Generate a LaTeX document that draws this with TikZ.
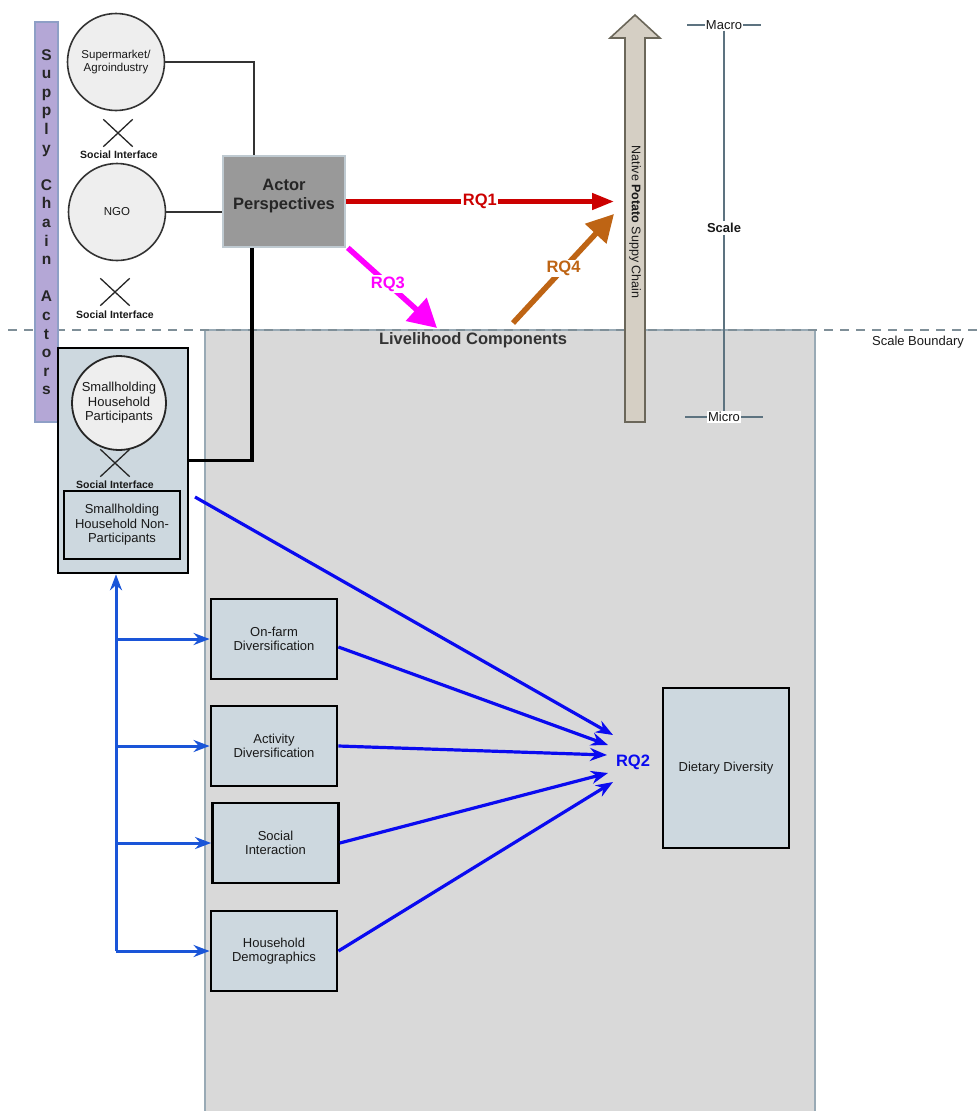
\documentclass[tikz,border=0pt]{standalone}
\usepackage{fontspec}
\setmainfont{Liberation Sans}
\usetikzlibrary{arrows.meta,shapes.misc}
\definecolor{barpurple}{HTML}{B4A7D6}
\definecolor{barline}{HTML}{8E9FC6}
\definecolor{circgray}{HTML}{EEEEEE}
\definecolor{actorgray}{HTML}{999999}
\definecolor{actorline}{HTML}{BFCAD1}
\definecolor{boxblue}{HTML}{CDD8DF}
\definecolor{lgray}{HTML}{D9D9D9}
\definecolor{regionline}{HTML}{99AAB5}
\definecolor{boundary}{HTML}{7F8F98}
\definecolor{chainfill}{HTML}{D5CFC4}
\definecolor{chainline}{HTML}{6B675A}
\definecolor{scaleline}{HTML}{5D7380}
\definecolor{rqred}{HTML}{CC0000}
\definecolor{rqmag}{HTML}{FF00FF}
\definecolor{rqbrown}{HTML}{BE6414}
\definecolor{rqblue}{HTML}{0A0AF0}
\definecolor{spineblue}{HTML}{1A55D8}
\begin{document}
\begin{tikzpicture}[x=1pt,y=-1pt,
    txt/.style={font=\fontsize{13}{14.5}\selectfont, text=black!90},
    actorcirc/.style={circle, draw=black!80, line width=1.6pt, fill=circgray, align=center,
      minimum size=97pt, inner sep=0pt, font=\fontsize{11.5}{13.5}\selectfont, text=black!90},
    crossmark/.style={cross out, draw=black!85, line width=1.3pt, minimum width=28pt,
      minimum height=26pt, inner sep=0pt},
    silabel/.style={font=\bfseries\fontsize{10.5}{12}\selectfont, text=black!90},
    compbox/.style={rectangle, draw=black, line width=2.8pt, fill=boxblue, align=center,
      minimum width=126pt, minimum height=80pt, txt},
    rqlabel/.style={font=\bfseries\fontsize{16.5}{18}\selectfont, fill=white, inner sep=1.5pt},
    rqtwo/.style={draw=rqblue, line width=3.2pt, -{Stealth[length=17pt,width=13pt]}},
    spine/.style={draw=spineblue, line width=3pt, -{Stealth[length=16pt,width=12pt]}}]
  \useasboundingbox (0,0) rectangle (977,1111);

  % livelihood region and scale boundary
  \fill[lgray] (205,330) rectangle (815,1111);
  \draw[regionline, line width=1.6pt] (205,1111) -- (205,330) -- (815,330) -- (815,1111);
  \draw[boundary, dash pattern=on 9pt off 7pt, line width=1.8pt] (8,330) -- (977,330);
  \node[txt] (boundary) at (918,342) {Scale Boundary};
  \node[font=\bfseries\fontsize{16.5}{18}\selectfont, text=black!80] (livelihood) at (473,340) {Livelihood Components};

  % supply chain actors
  \node[draw=barline, fill=barpurple, line width=1.6pt, minimum width=23pt, minimum height=400pt,
    inner sep=0pt, align=center, font=\bfseries\fontsize{15.5}{18.6}\selectfont, text=black!85,
    text depth=0pt] (actors) at (46.5,222)
    {S\\u\\p\\p\\l\\y\\\mbox{}\\C\\h\\a\\i\\n\\\mbox{}\\A\\c\\t\\o\\r\\s};
  \node[actorcirc] (supermarket) at (116,62) {Supermarket/\\Agroindustry};
  \node[crossmark] (cross1) at (118,133) {};
  \node[silabel] (interface1) at (119,155) {Social Interface};
  \node[actorcirc] (ngo) at (117,212) {NGO};
  \node[crossmark] (cross2) at (115,292) {};
  \node[silabel] (interface2) at (115,315) {Social Interface};

  \node[draw=actorline, fill=actorgray, line width=1.6pt, minimum width=122pt, minimum height=91pt,
    align=center, font=\bfseries\fontsize{16.5}{19}\selectfont, text=black!85, text depth=14pt]
    (actor) at (284,201.5) {Actor\\Perspectives};

  % smallholders
  \node[draw=black, line width=2.6pt, fill=boxblue, minimum width=130pt, minimum height=225pt] (holders) at (123,460.5) {};
  \node[circle, draw=black!85, line width=1.8pt, fill=circgray, minimum size=94pt, inner sep=0pt,
    align=center, txt] (participants) at (119,403) {Smallholding\\Household\\Participants};
  \node[crossmark] (cross3) at (115,463) {};
  \node[silabel] (interface3) at (115,485) {Social Interface};
  \node[draw=black, line width=1.8pt, fill=boxblue, minimum width=116pt, minimum height=68pt,
    align=center, txt] (nonpart) at (122,525) {Smallholding\\Household Non-\\Participants};

  % livelihood components
  \node[compbox] (onfarm) at (274,639) {On-farm\\Diversification};
  \node[compbox] (activity) at (274,746) {Activity\\Diversification};
  \node[compbox] (social) at (275.5,843) {Social\\Interaction};
  \node[compbox] (demog) at (274,951) {Household\\Demographics};
  \node[compbox, minimum height=160pt] (dietary) at (726,768) {Dietary Diversity};
  \node[rqlabel, text=rqblue, fill=none] (rq2) at (633,762) {RQ2};

  % native potato supply chain and scale
  \draw[chainline, fill=chainfill, line width=1.6pt] (625,422) -- (625,38) -- (610,38) -- (635,15)
    -- (660,38) -- (645,38) -- (645,422) -- cycle;
  \node[rotate=-90, font=\fontsize{12.5}{14}\selectfont, text=black!90] (chain) at (635,222)
    {Native \textbf{Potato} Suppy Chain};
  \node[txt, inner sep=1pt] (macro) at (724,25) {Macro};
  \node[font=\bfseries\fontsize{13}{15}\selectfont, text=black!90, inner sep=2pt] (scale) at (724,228) {Scale};
  \node[txt, inner sep=1pt, fill=white] (micro) at (724,417) {Micro};
  \draw[scaleline, line width=1.6pt] (macro) -- (scale) -- (micro);
  \draw[scaleline, line width=1.6pt] (macro.west) -- ++(-18,0) (macro.east) -- ++(18,0);
  \draw[scaleline, line width=1.6pt] (micro.west) -- ++(-22,0) (micro.east) -- ++(22,0);

  % actor links
  \draw[line width=1.6pt, black!80] (supermarket.east) -| ([xshift=32pt]actor.north west);
  \draw[line width=1.6pt, black!80] (ngo.east) -- (ngo.east -| actor.west);
  \draw[line width=3.6pt] ([xshift=30pt]actor.south west) |- (holders.east);

  % research questions
  \coordinate (rq1tip) at (614,201.5);
  \coordinate (rq3tip) at (437,328);
  \coordinate (rq4foot) at (513,323);
  \coordinate (rq4tip) at (614,214);
  \draw[rqred, line width=4.6pt, -{Triangle[length=22pt,width=16pt]}] (actor.east) --
    node[rqlabel, text=rqred] (rq1) {RQ1} (rq1tip);
  \draw[rqmag, line width=5.5pt, -{Triangle[length=28pt,width=30pt]}] ([xshift=2pt]actor.south east) --
    node[pos=0.45, rqlabel, text=rqmag] (rq3) {RQ3} (rq3tip);
  \draw[rqbrown, line width=5.5pt, -{Triangle[length=27pt,width=28pt]}] (rq4foot) --
    node[rqlabel, text=rqbrown] (rq4) {RQ4} (rq4tip);

  % RQ2 inputs
  \coordinate (hhout) at (195,497);
  \draw[rqtwo] (hhout) -- ([shift={(-20,-27)}]rq2.center);
  \draw[rqtwo] ([yshift=-8pt]onfarm.east) -- ([shift={(-25,-17)}]rq2.center);
  \draw[rqtwo] (activity.east) -- ([shift={(-26,-7)}]rq2.center);
  \draw[rqtwo] (social.east) -- ([shift={(-25,11)}]rq2.center);
  \draw[rqtwo] (demog.east) -- ([shift={(-20,20)}]rq2.center);

  % household spine
  \coordinate (spinefoot) at (116,951);
  \draw[spine] (spinefoot) -- (spinefoot |- holders.south);
  \foreach \b in {onfarm,activity,social,demog}
    \draw[spine] (spinefoot |- \b.west) -- (\b.west);
\end{tikzpicture}
\end{document}
